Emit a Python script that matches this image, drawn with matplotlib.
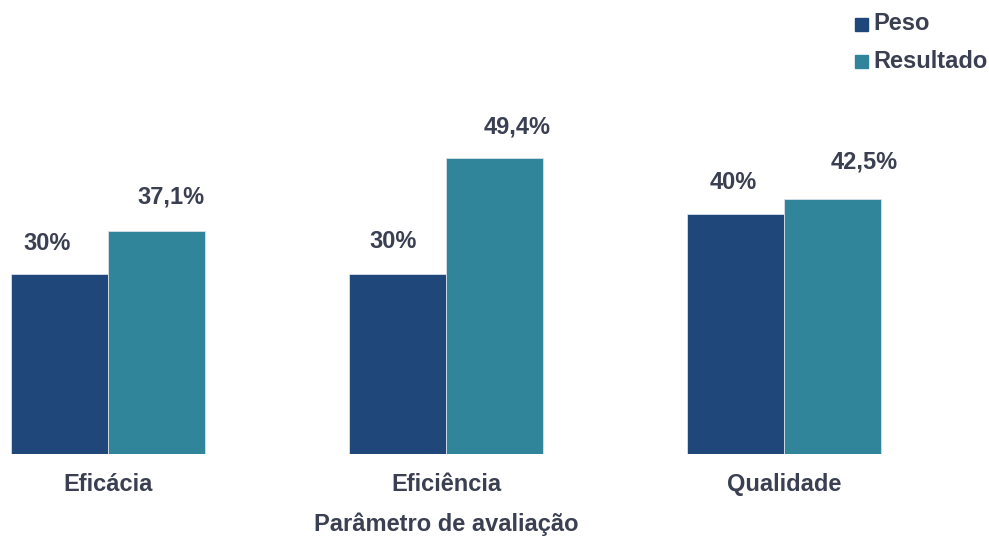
import numpy as np
import matplotlib.pyplot as plt
from matplotlib.patches import Rectangle

plt.rcParams['font.family'] = ['Liberation Sans', 'DejaVu Sans']

# Data
categorias = ['Eficácia', 'Eficiência', 'Qualidade']
series = ['Peso', 'Resultado']
peso = [30.0, 30.0, 40.0]
resultado = [37.1, 49.4, 42.5]
rotulos_peso = ['30%', '30%', '40%']
rotulos_resultado = ['37,1%', '49,4%', '42,5%']

cores = {'Peso': '#20477A', 'Resultado': '#31859B'}
cor_texto = '#3A3F51'
fs = 17

W, H = 989, 538
fig = plt.figure(figsize=(W / 100, H / 100), dpi=100)
# axes spans full width; bottom of bars at y=454 px
ax = fig.add_axes([0, (H - 454) / H, 1, 454 / H])

x = np.arange(len(categorias))
largura = 0.287
b1 = ax.bar(x - largura / 2, peso, largura, color=cores['Peso'],
            edgecolor='#d9e1ea', linewidth=0.6)
b2 = ax.bar(x + largura / 2, resultado, largura, color=cores['Resultado'],
            edgecolor='#d9e1ea', linewidth=0.6)

# data labels (offsets in pixels, converted to points)
off_peso = [(-12.5, 24.5), (-4.5, 26.5), (-2.5, 25)]
off_res = [(14.5, 27.5), (22, 24.5), (31.5, 30.5)]
for bars, rots, offs in [(b1, rotulos_peso, off_peso), (b2, rotulos_resultado, off_res)]:
    for b, r, (dx, dy) in zip(bars, rots, offs):
        ax.annotate(r, (b.get_x() + b.get_width() / 2, b.get_height()),
                    xytext=(dx * 0.72, dy * 0.72), textcoords='offset points',
                    ha='center', va='baseline', fontsize=fs, fontweight='bold',
                    color=cor_texto)

ax.set_xlim(-108.3 / 338, (W - 108.3) / 338)
ax.set_ylim(0, 454 / 6)
ax.set_xticks(x)
ax.set_xticklabels(categorias, fontsize=fs, fontweight='bold', color=cor_texto)
ax.tick_params(axis='x', length=0, pad=14)
ax.set_yticks([])
for s in ax.spines.values():
    s.set_visible(False)

fig.text(446 / W, 1 - 531 / H, 'Parâmetro de avaliação', ha='center', va='baseline',
         fontsize=fs, fontweight='bold', color=cor_texto)

# legend, top right
for i, nome in enumerate(series):
    y0 = 18 + i * 37
    fig.patches.append(Rectangle((855 / W, 1 - (y0 + 12.5) / H), 13 / W, 12.5 / H,
                                 transform=fig.transFigure, color=cores[nome]))
    fig.text(873 / W, 1 - (y0 + 12.5) / H, nome, ha='left', va='baseline',
             fontsize=fs, fontweight='bold', color=cor_texto)

fig.savefig('out.png', dpi=100, facecolor='white')
